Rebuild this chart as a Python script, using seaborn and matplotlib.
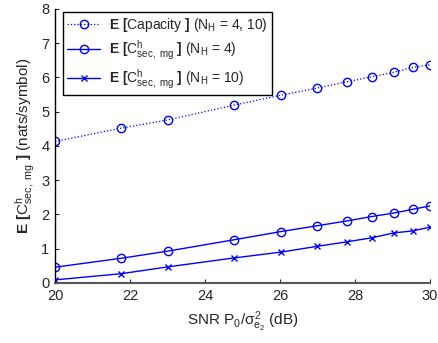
import matplotlib
matplotlib.use('Agg')
import matplotlib.pyplot as plt
import seaborn as sns
import pandas as pd

# data
snr_db = [20, 21.76, 23.01, 24.77, 26.02, 26.99, 27.78, 28.45, 29.03, 29.54, 30]
capacity = [4.13, 4.52, 4.76, 5.19, 5.48, 5.69, 5.87, 6.02, 6.15, 6.29, 6.37]
csec_nh4 = [0.46, 0.72, 0.93, 1.26, 1.50, 1.67, 1.81, 1.94, 2.04, 2.15, 2.25]
csec_nh10 = [0.09, 0.27, 0.47, 0.73, 0.90, 1.07, 1.20, 1.32, 1.46, 1.52, 1.63]

sns.set_style('white')
plt.rcParams['font.family'] = ['Liberation Sans', 'DejaVu Sans']
plt.rcParams['mathtext.fontset'] = 'custom'
plt.rcParams['mathtext.rm'] = 'Liberation Sans'
plt.rcParams['mathtext.it'] = 'Liberation Sans'
plt.rcParams['mathtext.bf'] = 'Liberation Sans:bold'
plt.rcParams['xtick.direction'] = 'in'
plt.rcParams['ytick.direction'] = 'in'

df = pd.DataFrame({'snr': snr_db, 'cap': capacity, 'nh4': csec_nh4, 'nh10': csec_nh10})

fig = plt.figure(figsize=(4.38, 3.43), dpi=100)
ax = fig.add_axes([0.1256, 0.175, 0.856, 0.799])

blue = (0, 0, 1)
sns.lineplot(data=df, x='snr', y='cap', ax=ax, color=blue, linestyle=':', lw=0.9,
             marker='o', markersize=6, markerfacecolor='none', markeredgecolor=blue,
             markeredgewidth=1.0,
             label=r'$\mathbf{E\ [}$Capacity $\mathbf{]}$ (N$_H$ = 4, 10)')
sns.lineplot(data=df, x='snr', y='nh4', ax=ax, color=blue, linestyle='-', lw=1.0,
             marker='o', markersize=6, markerfacecolor='none', markeredgecolor=blue,
             markeredgewidth=1.0,
             label=r'$\mathbf{E\ [}$C$^{h}_{sec,\ mg}$ $\mathbf{]}$ (N$_H$ = 4)')
sns.lineplot(data=df, x='snr', y='nh10', ax=ax, color=blue, linestyle='-', lw=1.0,
             marker='x', markersize=4, markeredgecolor=blue, markeredgewidth=1.0,
             label=r'$\mathbf{E\ [}$C$^{h}_{sec,\ mg}$ $\mathbf{]}$ (N$_H$ = 10)')

ax.set_xlim(20, 30)
ax.set_ylim(0, 8)
ax.set_xticks([20, 22, 24, 26, 28, 30])
ax.set_yticks(range(0, 9))
ax.tick_params(labelsize=10.5, length=3, width=0.8, bottom=True, left=True)
ax.tick_params(axis='x', pad=4)
ax.tick_params(axis='y', pad=4)

for s in ['top', 'right']:
    ax.spines[s].set_visible(False)
ax.spines['left'].set_color('black')
ax.spines['left'].set_linewidth(1.0)
ax.spines['bottom'].set_color('#555555')
ax.spines['bottom'].set_linewidth(1.5)

ax.set_xlabel(r'SNR P$_0$/$\sigma^2_{e_2}$ (dB)', fontsize=11, labelpad=5)
ax.set_ylabel(r'$\mathbf{E\ [}$C$^{h}_{sec,\ mg}$ $\mathbf{]}$ (nats/symbol)', fontsize=11, labelpad=3)

leg = ax.legend(loc='upper left', bbox_to_anchor=(0.021, 0.99), fontsize=10,
                frameon=True, fancybox=False, framealpha=1, edgecolor='black',
                handlelength=2.4, handletextpad=0.6, borderpad=0.3, labelspacing=0.35,
                borderaxespad=0)
leg.get_frame().set_linewidth(1.0)

fig.savefig('out.png', dpi=100)
